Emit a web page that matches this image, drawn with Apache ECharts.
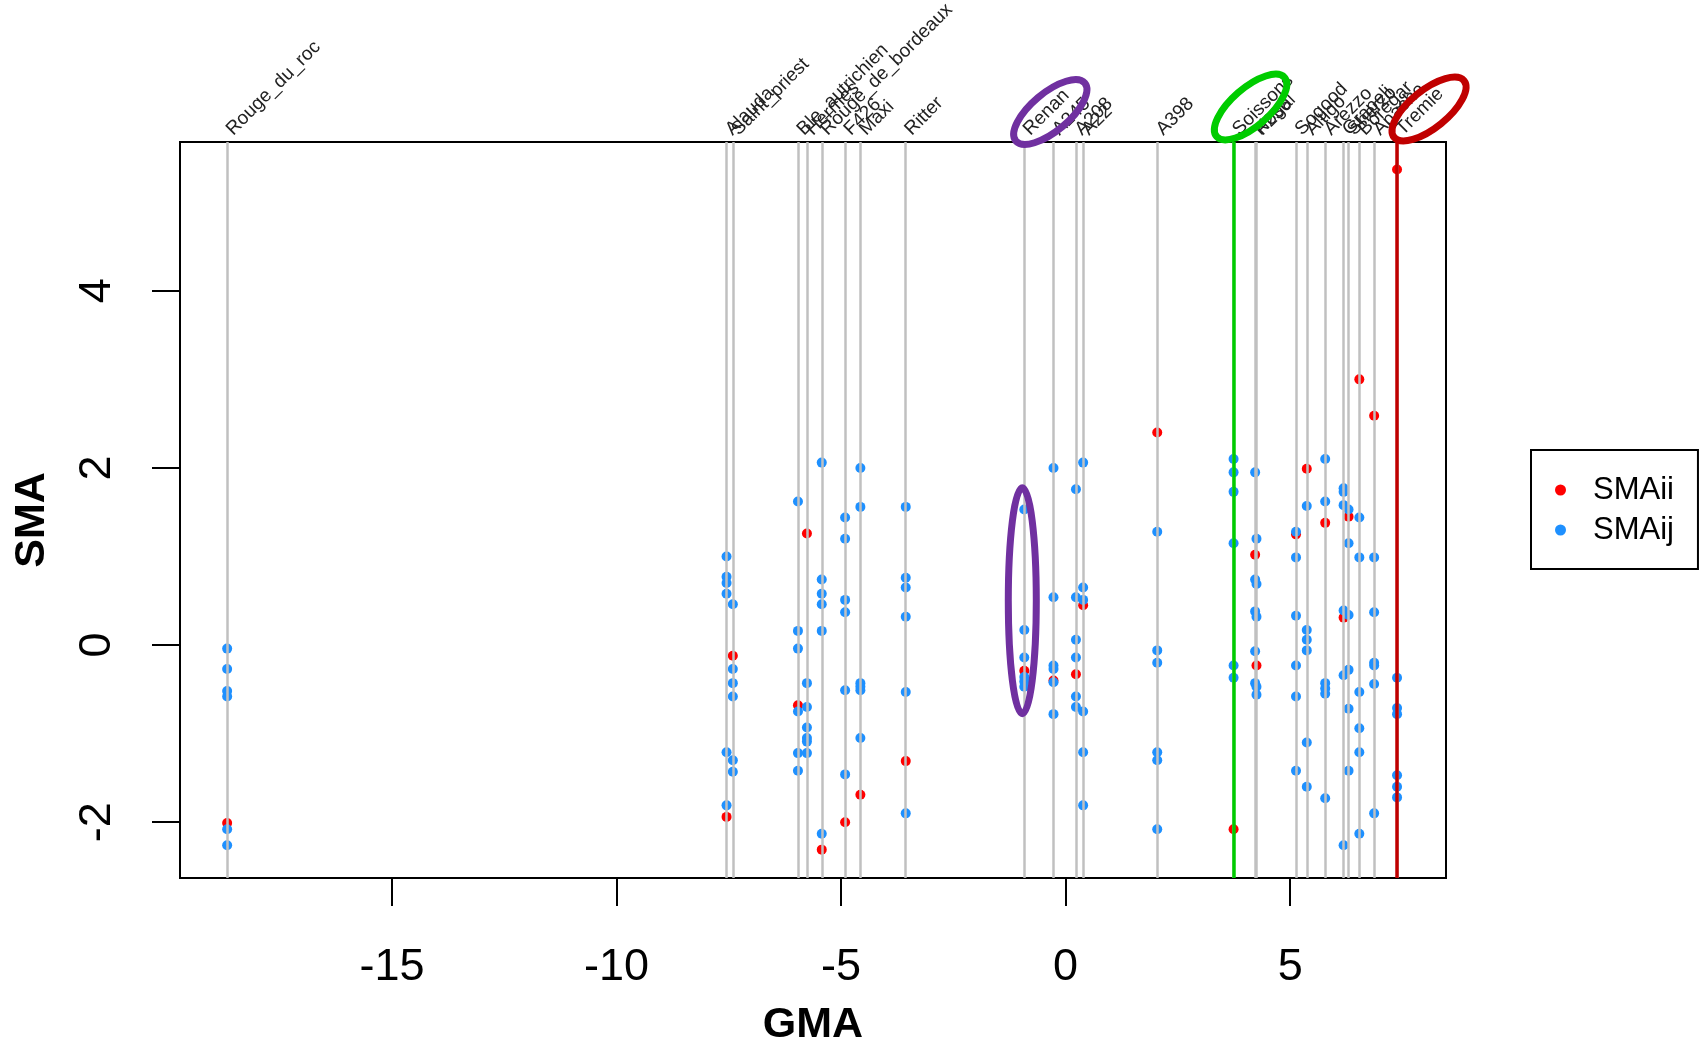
<!DOCTYPE html>
<html>
<head>
<meta charset="utf-8">
<script src="https://cdn.jsdelivr.net/npm/echarts@6/dist/echarts.min.js"></script>
<style>
html,body{margin:0;padding:0;background:#fff;}
#chart{width:1702px;height:1045px;}
</style>
</head>
<body>
<div id="chart"></div>
<script>
// ---------- data ----------
const varieties = ['Rouge_du_roc','Alauda','Saint_priest','Ble_autrichien','Hermes','Rouge_de_bordeaux','F426','Maxi','Ritter','Renan','A245','A208','A22','A398','Soissons','Nogal','F236','Sogood','Altigo','Arezzo','Grapeli','Sherzo','Boregar','Apache','Tremie'];
const gma = [-18.67,-7.55,-7.41,-5.96,-5.76,-5.43,-4.91,-4.57,-3.56,-0.92,-0.27,0.23,0.39,2.04,3.74,4.22,4.25,5.13,5.37,5.78,6.19,6.30,6.54,6.87,7.38];
const smaii = [-2.01,-1.94,-0.12,-0.68,1.26,-2.31,-2.00,-1.69,-1.31,-0.29,-0.40,-0.33,0.45,2.40,-2.08,1.02,-0.23,1.25,1.99,1.38,0.31,1.45,3.00,2.59,5.37];
const smaij = [
  [-0.04,-0.27,-0.52,-0.58,-2.08,-2.26],
  [1.00,0.77,0.70,0.58,-1.21,-1.81],
  [0.46,-0.27,-0.43,-0.58,-1.30,-1.43],
  [1.62,0.16,-0.04,-0.75,-1.22,-1.42],
  [-0.43,-0.70,-0.93,-1.05,-1.09,-1.22],
  [2.06,0.74,0.58,0.46,0.16,-2.13],
  [1.44,1.20,0.51,0.37,-0.51,-1.46],
  [2.00,1.56,-0.43,-0.47,-0.51,-1.05],
  [1.56,0.76,0.65,0.32,-0.53,-1.90],
  [1.53,0.17,-0.14,-0.36,-0.41,-0.47],
  [2.00,0.54,-0.23,-0.27,-0.42,-0.78],
  [1.76,0.54,0.06,-0.14,-0.58,-0.70],
  [2.06,0.65,0.51,-0.75,-1.21,-1.81],
  [1.28,-0.06,-0.20,-1.21,-1.30,-2.08],
  [2.10,1.95,1.73,1.15,-0.23,-0.37],
  [1.95,0.74,0.38,-0.07,-0.43],
  [1.20,0.69,0.32,-0.47,-0.56],
  [1.28,0.99,0.33,-0.23,-0.58,-1.42],
  [1.57,0.17,0.06,-0.06,-1.10,-1.60],
  [2.10,1.62,-0.43,-0.49,-0.55,-1.73],
  [1.77,1.73,1.58,0.39,-0.34,-2.26],
  [1.53,1.15,0.34,-0.28,-0.72,-1.42],
  [1.44,0.99,-0.53,-0.94,-1.21,-2.13],
  [0.99,0.37,-0.20,-0.23,-0.44,-1.90],
  [-0.37,-0.71,-0.78,-1.47,-1.60,-1.72]
];
const xTicks = [-15,-10,-5,0,5];
const yTicks = [-2,0,2,4];
const xRange = [-19.72, 8.47];
const yRange = [-2.63, 5.68];
const highlighted = [{name:'Soissons', color:'#00CC00'}, {name:'Tremie', color:'#C00000'}];

// ---------- build ----------
const iiData = varieties.map((v,i)=>[gma[i], smaii[i]]);
const ijData = [];
varieties.forEach((v,i)=>smaij[i].forEach(y=>ijData.push([gma[i], y])));

const FONT = '"Liberation Sans", Arial, sans-serif';
const chart = echarts.init(document.getElementById('chart'), null, {renderer:'canvas'});

const option = {
  animation:false,
  backgroundColor:'#fff',
  textStyle:{fontFamily:FONT},
  grid:{left:180, right:256, top:142, bottom:167, show:true, borderColor:'#000', borderWidth:2, backgroundColor:'transparent', outerBoundsMode:'none'},
  legend:{
    data:['SMAii','SMAij'], orient:'vertical', left:1531, top:450,
    padding:[22,24,21,24], itemWidth:55, itemHeight:11, itemGap:4,
    borderColor:'#000', borderWidth:2, borderRadius:0,
    icon:'circle',
    textStyle:{fontSize:31, lineHeight:36, color:'#000', fontFamily:FONT}
  },
  xAxis:{
    type:'value', position:'bottom', min:xRange[0], max:xRange[1],
    name:'GMA', nameLocation:'middle', nameGap:126,
    nameTextStyle:{fontSize:43, fontWeight:'bold', color:'#000', fontFamily:FONT},
    axisLine:{show:false, onZero:false}, splitLine:{show:false},
    axisTick:{show:true, inside:false, length:28, lineStyle:{color:'#000', width:2}, customValues:xTicks},
    axisLabel:{fontSize:45, color:'#000', margin:67, customValues:xTicks, fontFamily:FONT}
  },
  yAxis:{
    type:'value', min:yRange[0], max:yRange[1],
    name:'SMA', nameLocation:'middle', nameGap:126,
    nameTextStyle:{fontSize:43, fontWeight:'bold', color:'#000', fontFamily:FONT, padding:[0,20,0,0]},
    axisLine:{show:false, onZero:false}, splitLine:{show:false},
    axisTick:{show:true, inside:false, length:28, lineStyle:{color:'#000', width:2}, customValues:yTicks},
    axisLabel:{fontSize:45, color:'#000', margin:60, rotate:90, customValues:yTicks, fontFamily:FONT}
  },
  series:[
    {
      type:'scatter', name:'lines', data:[], silent:true, z:1,
      markLine:{silent:true, symbol:['none','none'], label:{show:false}, animation:false,
        lineStyle:{color:'#C0C0C0', width:2.5, type:'solid'},
        emphasis:{disabled:true},
        data:gma.map(g=>({xAxis:g}))}
    },
    {type:'scatter', name:'SMAii', data:iiData, symbolSize:10, itemStyle:{color:'#FF0000', opacity:1}, z:3},
    {type:'scatter', name:'SMAij', data:ijData, symbolSize:10, itemStyle:{color:'#1E90FF', opacity:1}, z:4},
    {
      type:'scatter', name:'hl', data:[], silent:true, z:10,
      markLine:{silent:true, symbol:['none','none'], label:{show:false}, animation:false,
        emphasis:{disabled:true},
        data:highlighted.map(h=>({xAxis:gma[varieties.indexOf(h.name)], lineStyle:{color:h.color, width:3.5, type:'solid'}}))}
    }
  ]
};
chart.setOption(option);

// ---------- variety labels and annotation ellipses ----------
const plotTop = 142;
function px(name){ return chart.convertToPixel({xAxisIndex:0, yAxisIndex:0}, [gma[varieties.indexOf(name)], 0])[0]; }
const labels = varieties.map((v,i)=>({
  type:'text', x: chart.convertToPixel({xAxisIndex:0, yAxisIndex:0}, [gma[i], 0])[0] + 9, y: plotTop - 3,
  rotation: Math.PI/4, z:50, silent:true,
  style:{text:v, fontSize:19, fontFamily:FONT, fill:'#222', textAlign:'left', textVerticalAlign:'bottom'}
}));
const renanCenter = chart.convertToPixel({xAxisIndex:0, yAxisIndex:0}, [gma[varieties.indexOf('Renan')], 0.5]);
const ellipses = [
  {x: px('Renan')+26, y: plotTop-30, rx:45, ry:19, rot:40, color:'#7030A0'},
  {x: px('Soissons')+17, y: plotTop-35, rx:45, ry:19, rot:41, color:'#00CC00'},
  {x: px('Tremie')+32, y: plotTop-33, rx:45, ry:19, rot:39, color:'#C00000'},
  {x: renanCenter[0]-2, y: renanCenter[1], rx:14, ry:113, rot:0, color:'#7030A0'}
];
chart.setOption({graphic: labels.concat(ellipses.map(e=>({
  type:'ellipse', x:e.x, y:e.y, rotation:e.rot*Math.PI/180, z:100, silent:true,
  shape:{cx:0, cy:0, rx:e.rx, ry:e.ry},
  style:{fill:'none', stroke:e.color, lineWidth:7}
})))});
</script>
</body>
</html>
